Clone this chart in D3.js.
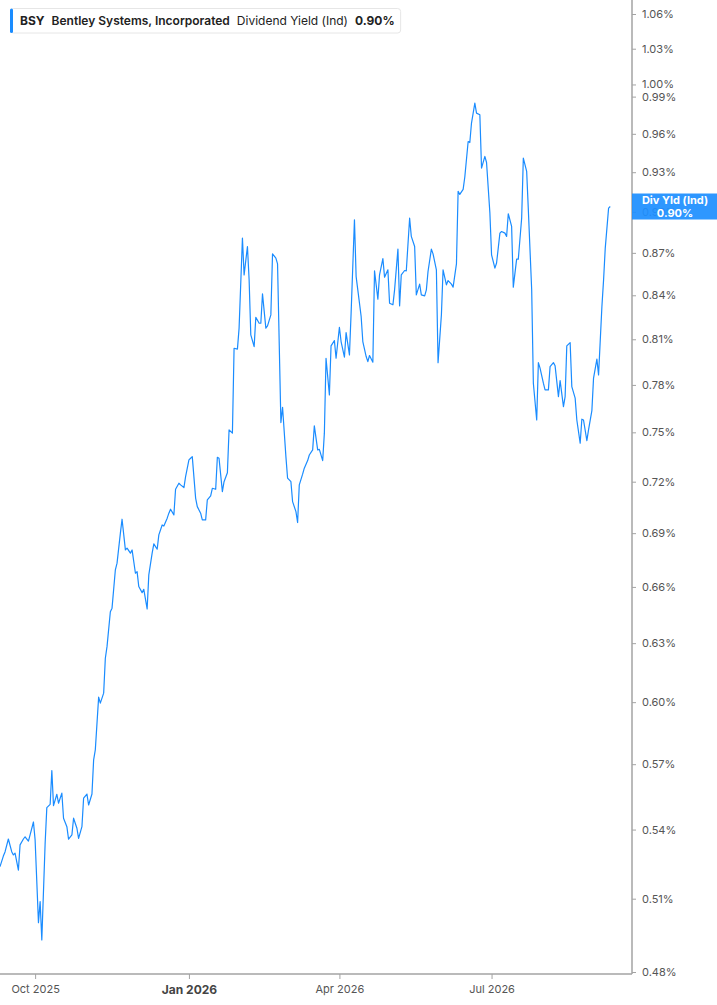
<!DOCTYPE html>
<html>
<head>
<meta charset="utf-8">
<script src="https://cdn.jsdelivr.net/npm/d3@7"></script>
<style>
  body { margin: 0; background: #fff; }
  svg { display: block; font-family: Inter, "Noto Sans", sans-serif; }
</style>
</head>
<body>
<svg id="chart" width="717" height="1005"></svg>
<script>
// daily dividend yield (%)
const dates = [
  "2025-09-10","2025-09-12","2025-09-13","2025-09-15","2025-09-17","2025-09-18","2025-09-19","2025-09-21","2025-09-22","2025-09-24",
  "2025-09-25","2025-09-27","2025-09-28","2025-09-30","2025-10-01","2025-10-03","2025-10-04","2025-10-05","2025-10-07","2025-10-08",
  "2025-10-10","2025-10-11","2025-10-12","2025-10-14","2025-10-15","2025-10-17","2025-10-18","2025-10-20","2025-10-21","2025-10-23",
  "2025-10-24","2025-10-26","2025-10-27","2025-10-29","2025-10-30","2025-11-01","2025-11-02","2025-11-04","2025-11-05","2025-11-06",
  "2025-11-08","2025-11-09","2025-11-11","2025-11-12","2025-11-13","2025-11-15","2025-11-16","2025-11-18","2025-11-19","2025-11-21",
  "2025-11-22","2025-11-24","2025-11-25","2025-11-27","2025-11-28","2025-11-30","2025-12-01","2025-12-02","2025-12-04","2025-12-05",
  "2025-12-07","2025-12-08","2025-12-10","2025-12-11","2025-12-13","2025-12-14","2025-12-16","2025-12-17","2025-12-19","2025-12-20",
  "2025-12-21","2025-12-23","2025-12-24","2025-12-26","2025-12-27","2025-12-29","2025-12-30","2026-01-01","2026-01-02","2026-01-03",
  "2026-01-05","2026-01-06","2026-01-08","2026-01-09","2026-01-11","2026-01-12","2026-01-14","2026-01-15","2026-01-17","2026-01-18",
  "2026-01-19","2026-01-21","2026-01-22","2026-01-24","2026-01-25","2026-01-27","2026-01-28","2026-01-30","2026-01-31","2026-02-02",
  "2026-02-03","2026-02-05","2026-02-06","2026-02-07","2026-02-09","2026-02-10","2026-02-12","2026-02-13","2026-02-14","2026-02-16",
  "2026-02-17","2026-02-19","2026-02-20","2026-02-22","2026-02-23","2026-02-25","2026-02-26","2026-02-28","2026-03-01","2026-03-03",
  "2026-03-04","2026-03-06","2026-03-07","2026-03-08","2026-03-10","2026-03-11","2026-03-13","2026-03-14","2026-03-16","2026-03-17",
  "2026-03-19","2026-03-20","2026-03-22","2026-03-23","2026-03-24","2026-03-26","2026-03-27","2026-03-29","2026-03-30","2026-04-01",
  "2026-04-02","2026-04-04","2026-04-05","2026-04-07","2026-04-08","2026-04-10","2026-04-11","2026-04-12","2026-04-14","2026-04-15",
  "2026-04-17","2026-04-18","2026-04-19","2026-04-21","2026-04-22","2026-04-24","2026-04-25","2026-04-27","2026-04-28","2026-04-30",
  "2026-05-01","2026-05-03","2026-05-04","2026-05-06","2026-05-07","2026-05-08","2026-05-10","2026-05-11","2026-05-13","2026-05-14",
  "2026-05-16","2026-05-17","2026-05-19","2026-05-20","2026-05-22","2026-05-23","2026-05-24","2026-05-26","2026-05-27","2026-05-29",
  "2026-05-30","2026-06-01","2026-06-02","2026-06-04","2026-06-05","2026-06-07","2026-06-08","2026-06-10","2026-06-11","2026-06-12",
  "2026-06-14","2026-06-15","2026-06-17","2026-06-18","2026-06-19","2026-06-21","2026-06-22","2026-06-24","2026-06-25","2026-06-27",
  "2026-06-28","2026-06-30","2026-07-01","2026-07-03","2026-07-04","2026-07-06","2026-07-07","2026-07-09","2026-07-10","2026-07-11",
  "2026-07-13","2026-07-14","2026-07-16","2026-07-17","2026-07-19","2026-07-20","2026-07-22","2026-07-23","2026-07-25","2026-07-26",
  "2026-07-28","2026-07-29","2026-07-30","2026-08-01","2026-08-02","2026-08-04","2026-08-05","2026-08-07","2026-08-08","2026-08-10",
  "2026-08-11","2026-08-13","2026-08-14","2026-08-15","2026-08-17","2026-08-18","2026-08-20","2026-08-21","2026-08-23","2026-08-24",
  "2026-08-25","2026-08-27","2026-08-28","2026-08-30","2026-08-31","2026-09-02","2026-09-03","2026-09-05","2026-09-06","2026-09-07",
  "2026-09-09","2026-09-10"
];

const yields = [
  0.5237,0.5283,0.5301,0.5358,0.5302,0.5288,0.5296,0.5222,0.5332,0.5358,
  0.5368,0.5349,0.5376,0.5434,0.5354,0.5000,0.5088,0.4929,0.5340,0.5499,
  0.5514,0.5670,0.5508,0.5560,0.5519,0.5565,0.5451,0.5413,0.5357,0.5376,
  0.5451,0.5406,0.5361,0.5413,0.5542,0.5561,0.5511,0.5561,0.5720,0.5768,
  0.6025,0.5995,0.6045,0.6222,0.6282,0.6466,0.6485,0.6694,0.6731,0.6900,
  0.6980,0.6805,0.6815,0.6787,0.6805,0.6675,0.6684,0.6602,0.6569,0.6587,
  0.6481,0.6666,0.6787,0.6839,0.6809,0.6890,0.6947,0.6941,0.6986,0.7015,
  0.7038,0.7005,0.7155,0.7191,0.7181,0.7165,0.7230,0.7331,0.7341,0.7351,
  0.7103,0.7053,0.7015,0.6976,0.6976,0.7093,0.7116,0.7161,0.7155,0.7347,
  0.7341,0.7141,0.7200,0.7253,0.7515,0.7495,0.8040,0.8034,0.8175,0.8807,
  0.8543,0.8746,0.8508,0.8129,0.8051,0.8249,0.8208,0.8208,0.8410,0.8175,
  0.8190,0.8265,0.8693,0.8662,0.8621,0.7561,0.7657,0.7351,0.7221,0.7200,
  0.7082,0.7024,0.6961,0.7181,0.7245,0.7281,0.7327,0.7361,0.7392,0.7540,
  0.7392,0.7395,0.7327,0.7495,0.7974,0.7736,0.8056,0.8091,0.7974,0.8181,
  0.8085,0.7981,0.8145,0.7996,0.8277,0.8941,0.8531,0.8438,0.8254,0.8085,
  0.7985,0.7952,0.7992,0.7948,0.8571,0.8373,0.8543,0.8659,0.8527,0.8579,
  0.8345,0.8334,0.8438,0.8727,0.8327,0.8543,0.8574,0.8571,0.8953,0.8819,
  0.8746,0.8403,0.8478,0.8403,0.8396,0.8438,0.8567,0.8727,0.8693,0.8579,
  0.7945,0.8265,0.8579,0.8473,0.8503,0.8478,0.8457,0.8621,0.9154,0.9131,
  0.9169,0.9263,0.9539,0.9531,0.9686,0.9847,0.9766,0.9752,0.9332,0.9422,
  0.9375,0.8991,0.8686,0.8591,0.8627,0.8843,0.8855,0.8843,0.8819,0.8986,
  0.8892,0.8457,0.8655,0.8655,0.8953,0.9409,0.9306,0.9015,0.8438,0.7811,
  0.7577,0.7945,0.7909,0.7811,0.7768,0.7768,0.7919,0.7945,0.7924,0.7725,
  0.7828,0.7661,0.7725,0.8056,0.8078,0.7789,0.7715,0.7577,0.7433,0.7582,
  0.7577,0.7449,0.7515,0.7636,0.7844,0.7968,0.7865,0.8322,0.8508,0.8734,
  0.9028,0.9040
];

const yTicks = [0.48, 0.51, 0.54, 0.57, 0.60, 0.63, 0.66, 0.69, 0.72, 0.75, 0.78,
                0.81, 0.84, 0.87, 0.90, 0.93, 0.96, 0.99, 1.00, 1.03, 1.06];
const xTicks = ["2025-10-01", "2026-01-01", "2026-04-01", "2026-07-01"];

const parse = d3.timeParse("%Y-%m-%d");
const data = dates.map((d, i) => ({ date: parse(d), value: yields[i] }));

const svg = d3.select("#chart");
const plotRight = 632, axisY = 974;
const lineColor = "#1a8cff", axisColor = "#a3a3a3", labelColor = "#555";

const x = d3.scaleTime()
  .domain([parse("2025-09-10"), parse("2026-09-23")])
  .range([0, plotRight]);

const y = d3.scaleLog()
  .domain([0.48, 1.06])
  .range([972, 14]);

// price line
svg.append("path")
  .datum(data)
  .attr("fill", "none")
  .attr("stroke", lineColor)
  .attr("stroke-width", 1.2)
  .attr("stroke-linejoin", "round")
  .attr("d", d3.line().x(d => x(d.date)).y(d => y(d.value)));

// right axis
const yAxis = svg.append("g")
  .attr("transform", `translate(${plotRight},0)`)
  .call(d3.axisRight(y).tickValues(yTicks).tickSize(4).tickPadding(6)
    .tickFormat(d => d.toFixed(2) + "%"));
yAxis.select(".domain").remove();
yAxis.selectAll(".tick line").attr("stroke", axisColor);
yAxis.selectAll(".tick text")
  .attr("fill", labelColor)
  .style("font-size", "11px")
  .style("font-family", "Inter, sans-serif");

svg.append("line")
  .attr("x1", plotRight).attr("x2", plotRight)
  .attr("y1", 0).attr("y2", axisY)
  .attr("stroke", axisColor).attr("stroke-width", 1.5);

// bottom axis
const xAxis = svg.append("g")
  .attr("transform", `translate(0,${axisY})`)
  .call(d3.axisBottom(x).tickValues(xTicks.map(parse)).tickSize(5).tickPadding(6)
    .tickFormat(d3.timeFormat("%b %Y")));
xAxis.select(".domain").remove();
xAxis.selectAll(".tick line").attr("stroke", axisColor);
xAxis.selectAll(".tick text")
  .attr("fill", labelColor)
  .style("font-size", "11px")
  .style("font-family", "Inter, sans-serif")
  .filter(d => d.getMonth() === 0)
  .style("font-size", "12px")
  .style("font-weight", "bold")
  .attr("fill", "#444");

svg.append("line")
  .attr("x1", 0).attr("x2", plotRight)
  .attr("y1", axisY).attr("y2", axisY)
  .attr("stroke", axisColor).attr("stroke-width", 1.5);

// last value tag (semi-transparent, the tick label shows through as in the original)
const last = data[data.length - 1];
const tagY = y(last.value);
const tag = svg.append("g");
tag.append("rect")
  .attr("x", plotRight).attr("y", tagY - 13)
  .attr("width", 717 - plotRight).attr("height", 26)
  .attr("fill", "#1e8fff").attr("opacity", 0.93);
tag.append("text")
  .attr("x", 675).attr("y", tagY - 2.5)
  .attr("text-anchor", "middle")
  .attr("fill", "#fff")
  .style("font-size", "11px").style("font-weight", "bold")
  .text("Div Yld (Ind)");
tag.append("text")
  .attr("x", 675).attr("y", tagY + 10)
  .attr("text-anchor", "middle")
  .attr("fill", "#fff")
  .style("font-size", "11px").style("font-weight", "bold")
  .text(last.value.toFixed(2) + "%");

// legend header
const legend = svg.append("g");
const legendBox = legend.append("rect")
  .attr("x", 10.5).attr("y", 8.5).attr("height", 24.5).attr("rx", 3)
  .attr("fill", "#fff").attr("stroke", "#e6e6e6");
legend.append("rect")
  .attr("x", 10).attr("y", 8.5).attr("width", 3).attr("height", 24.5).attr("rx", 1.5)
  .attr("fill", lineColor);

const parts = [
  { text: "BSY", weight: 700 },
  { text: "Bentley Systems, Incorporated", weight: 600 },
  { text: "Dividend Yield (Ind)", weight: 400 },
  { text: last.value.toFixed(2) + "%", weight: 700 }
];
let cx = 20;
parts.forEach(p => {
  const t = legend.append("text")
    .attr("x", cx).attr("y", 25)
    .attr("fill", "#222")
    .style("font-size", "12px")
    .style("font-weight", p.weight)
    .text(p.text);
  cx += t.node().getComputedTextLength() + 7;
});
legendBox.attr("width", cx - 7 + 6 - 10.5);
</script>
</body>
</html>
